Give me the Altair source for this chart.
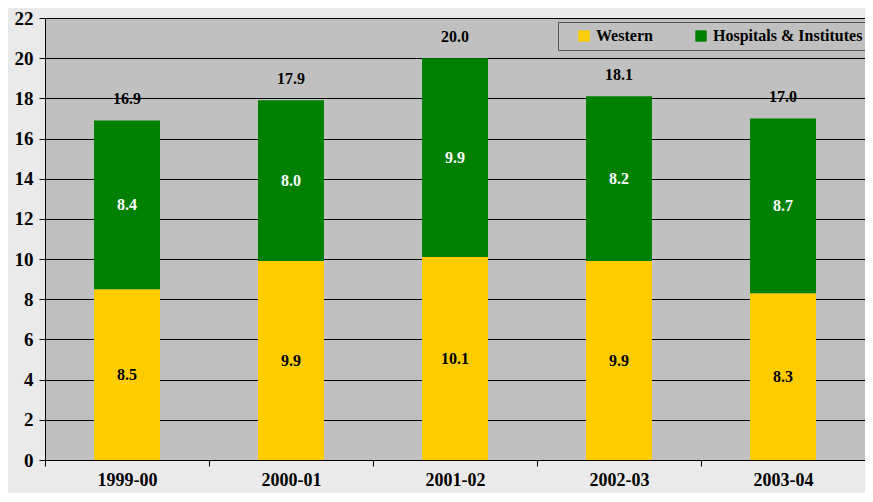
import altair as alt
import pandas as pd

years = ["1999-00", "2000-01", "2001-02", "2002-03", "2003-04"]
western = [8.5, 9.9, 10.1, 9.9, 8.3]
hospitals = [8.4, 8.0, 9.9, 8.2, 8.7]
series = ["Western", "Hospitals & Institutes"]
colors = ["#FFCC00", "#008000"]

rows = []
for i, y in enumerate(years):
    rows.append({"year": y, "series": series[0], "value": western[i], "order": 0})
    rows.append({"year": y, "series": series[1], "value": hospitals[i], "order": 1})
df = pd.DataFrame(rows)
totals = pd.DataFrame({"year": years, "total": [round(w + h, 1) for w, h in zip(western, hospitals)]})

FONT = "Liberation Serif, Times New Roman, serif"

xenc = alt.X("year:N", sort=years, title=None,
             scale=alt.Scale(paddingInner=0, paddingOuter=0),
             axis=alt.Axis(labelAngle=0, labelFont=FONT, labelFontSize=18, labelFontWeight="bold",
                           labelColor="#000", domainColor="#000", tickColor="#000", tickSize=6,
                           tickBand="extent", labelPadding=5, grid=False))

base = alt.Chart(df)

bars = base.mark_bar(size=66).encode(
    x=xenc,
    y=alt.Y("value:Q", stack="zero", title=None,
            scale=alt.Scale(domain=[0, 22], nice=False),
            axis=alt.Axis(values=list(range(0, 23, 2)), labelFont=FONT, labelFontSize=19,
                          labelFontWeight="bold", labelColor="#000", domainColor="#000",
                          tickColor="#000", tickSize=6, gridColor="#000", gridWidth=1,
                          gridOpacity=1, labelPadding=6)),
    color=alt.Color("series:N", sort=series, scale=alt.Scale(domain=series, range=colors),
                    legend=alt.Legend(title=None, orient="none", legendX=513, legendY=4,
                                      direction="horizontal", symbolType="square", symbolSize=130,
                                      symbolStrokeWidth=0, labelFont=FONT, labelFontSize=16,
                                      labelFontWeight="bold", labelColor="#000",
                                      fillColor="#C0C0C0", strokeColor="#555555",
                                      padding=6, columnPadding=28, labelOffset=4,
                                      symbolOffset=12)),
    order=alt.Order("order:Q"),
)

seg_labels = base.transform_stack(
    stack="value", groupby=["year"], as_=["v0", "v1"], sort=[alt.SortField("order")]
).transform_calculate(
    mid="(datum.v0 + datum.v1) / 2",
    txt="format(datum.value, '.1f')",
).mark_text(font=FONT, fontSize=16, fontWeight="bold", baseline="middle").encode(
    x=alt.X("year:N", sort=years),
    y=alt.Y("mid:Q"),
    text="txt:N",
    color=alt.Color("series:N", scale=alt.Scale(domain=series, range=["#000000", "#FFFFFF"]),
                    legend=None),
)

tot_labels = alt.Chart(totals).transform_calculate(
    txt="format(datum.total, '.1f')"
).mark_text(font=FONT, fontSize=16, fontWeight="bold", baseline="middle", dy=-21,
            color="#000").encode(
    x=alt.X("year:N", sort=years),
    y=alt.Y("total:Q"),
    text="txt:N",
)

chart = alt.layer(bars, seg_labels, tot_labels).resolve_scale(color="independent").properties(
    width=820, height=442,
    autosize=alt.AutoSizeParams(type="none"),
    padding={"left": 37, "top": 10, "right": 0, "bottom": 33},
    background="#EAEAEA",
).configure_view(fill="#C0C0C0", stroke=None)

chart.save("out.html", embed_options={"renderer": "svg", "actions": False})
